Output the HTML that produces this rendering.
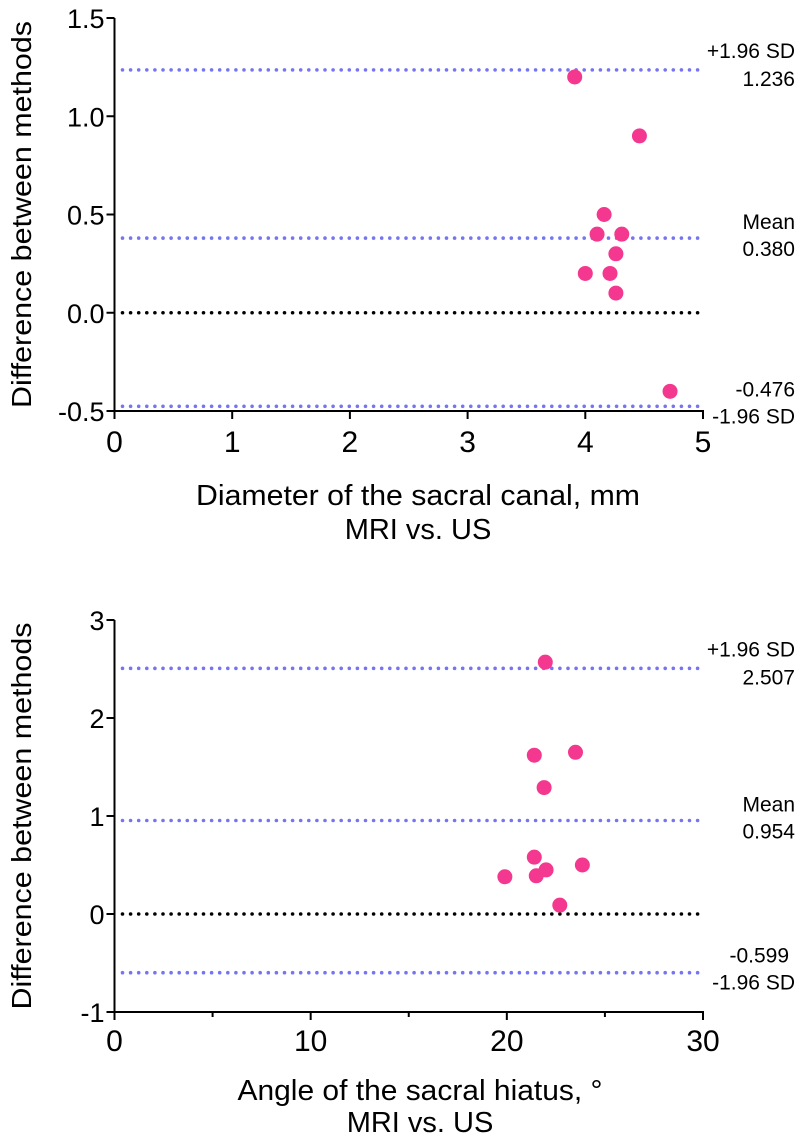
<!DOCTYPE html>
<html><head><meta charset="utf-8"><style>
html,body{margin:0;padding:0;background:#fff;}
svg{display:block;font-family:"Liberation Sans",Arial,sans-serif;}
</style></head><body>
<svg id="chart" width="800" height="1140" viewBox="0 0 800 1140" xmlns="http://www.w3.org/2000/svg"></svg>
<script>
// Panel 1: Diameter of the sacral canal
const diamX = [3.91, 4.46, 4.16, 4.10, 4.31, 4.26, 4.00, 4.21, 4.26, 4.72];
const diamY = [1.20, 0.90, 0.50, 0.40, 0.40, 0.30, 0.20, 0.20, 0.10, -0.40];
const diamStats = [1.236, 0.380, -0.476];
const diamYTicks = [-0.5, 0.0, 0.5, 1.0, 1.5];
const diamYTickLabels = ["-0.5", "0.0", "0.5", "1.0", "1.5"];
const diamXTicks = [0, 1, 2, 3, 4, 5];
const diamXMinor = [];
// Panel 2: Angle of the sacral hiatus
const angX = [21.96, 21.4, 23.5, 21.9, 21.4, 19.9, 21.5, 22.0, 23.85, 22.7];
const angY = [2.57, 1.62, 1.65, 1.29, 0.58, 0.38, 0.39, 0.45, 0.50, 0.09];
const angStats = [2.507, 0.954, -0.599];
const angYTicks = [-1, 0, 1, 2, 3];
const angYTickLabels = ["-1", "0", "1", "2", "3"];
const angXTicks = [0, 10, 20, 30];
const angXMinor = [5, 15, 25];

const NS = "http://www.w3.org/2000/svg";
const svg = document.getElementById('chart');
function mk(tag, attrs, parent, txt){
  const e = document.createElementNS(NS, tag);
  for (const k in attrs) e.setAttribute(k, attrs[k]);
  if (txt !== undefined) e.textContent = txt;
  (parent || svg).appendChild(e);
  return e;
}

function panel(cfg){
  const g = mk('g', {});
  
  
  const L = 114.5, R = 703;
  const sx = v => L + (v - cfg.xmin) / (cfg.xmax - cfg.xmin) * (R - L);
  const sy = v => cfg.yBottom + (v - cfg.ymin) / (cfg.ymax - cfg.ymin) * (cfg.yTop - cfg.yBottom);
  const y0 = cfg.yBottom;
  const statY = cfg.stats.map(sy);
  [0,1,2].forEach(i => {
    const l = mk('line', {x1: L+8, x2: R, y1: statY[i], y2: statY[i], stroke: '#7575f2', 'stroke-width': 3.6, 'stroke-linecap': 'round', 'stroke-dasharray': '0 8.1'}, g);
    
    
  });
  const zl = mk('line', {x1: L+8, x2: R, y1: sy(0), y2: sy(0), stroke: '#000', 'stroke-width': 3.6, 'stroke-linecap': 'round', 'stroke-dasharray': '0 8.1'}, g);
  
  
  const ya = mk('line', {x1: L, x2: L, y1: cfg.yTop, y2: y0 + 1, stroke: '#000', 'stroke-width': 2}, g);
  
  
  const xa = mk('line', {x1: L, x2: R + 1, y1: y0, y2: y0, stroke: '#000', 'stroke-width': 2}, g);
  
  
  cfg.yTicks.forEach((v, i) => {
    const y = sy(v);
    mk('line', {x1: L - 8, x2: L, y1: y, y2: y, stroke: '#000', 'stroke-width': 2}, g);
    const t = mk('text', {x: L - 10, y: y + 10, 'text-anchor': 'end', 'font-size': 27}, g, cfg.yLabels[i]);
    
    
  });
  cfg.xTicks.forEach(v => {
    const x = sx(v);
    mk('line', {x1: x, x2: x, y1: y0, y2: y0 + 8, stroke: '#000', 'stroke-width': 2}, g);
    const t = mk('text', {x: x, y: y0 + cfg.tickOff, 'text-anchor': 'middle', 'font-size': 30}, g, String(v));
    
    
  });
  cfg.xMinor.forEach(v => {
    const x = sx(v);
    mk('line', {x1: x, x2: x, y1: y0, y2: y0 + 5, stroke: '#000', 'stroke-width': 2}, g);
  });
  cfg.xs.forEach((xv, i) => {
    const c = mk('circle', {cx: sx(xv), cy: sy(cfg.ys[i]), r: 7.5, fill: '#f4378f'}, g);
    
    
  });
  const fmt = v => v.toFixed(3);
  const a1 = mk('text', {x: 795, y: statY[0] - 12, 'text-anchor': 'end', 'font-size': 21}, g, '+1.96 SD');
  
  
  const a2 = mk('text', {x: 795, y: statY[0] + 16, 'text-anchor': 'end', 'font-size': 21}, g, fmt(cfg.stats[0]));
  
  
  const m1 = mk('text', {x: 795, y: statY[1] - 9, 'text-anchor': 'end', 'font-size': 21}, g, 'Mean');
  
  
  const m2 = mk('text', {x: 795, y: statY[1] + 18, 'text-anchor': 'end', 'font-size': 21}, g, fmt(cfg.stats[1]));
  
  
  const b1 = mk('text', {x: cfg.lowValX, y: statY[2] - 10, 'text-anchor': 'end', 'font-size': 21}, g, fmt(cfg.stats[2]));
  
  
  const b2 = mk('text', {x: 795, y: statY[2] + 17, 'text-anchor': 'end', 'font-size': 21}, g, '-1.96 SD');
  
  
  const yc = (cfg.yTop + y0) / 2;
  const yt = mk('text', {x: 0, y: 0, transform: `translate(31,${yc}) rotate(-90)`, 'text-anchor': 'middle', 'font-size': 28, textLength: 387, lengthAdjust: 'spacingAndGlyphs'}, g, 'Difference between methods');
  
  
  const xt = mk('text', {x: cfg.titleX, y: y0 + cfg.titleOff, 'text-anchor': 'middle', 'font-size': 29, textLength: cfg.titleW, lengthAdjust: 'spacingAndGlyphs'}, g, cfg.title);
  
  
  const st = mk('text', {x: cfg.titleX, y: y0 + cfg.subOff, 'text-anchor': 'middle', 'font-size': 29}, g, 'MRI vs. US');
  
  
}

panel({name: 'diameter-panel', xs: diamX, ys: diamY, stats: diamStats, yTicks: diamYTicks, yLabels: diamYTickLabels,
  xTicks: diamXTicks, xMinor: diamXMinor, xmin: 0, xmax: 5, ymin: -0.5, ymax: 1.5, yTop: 18, yBottom: 411,
  tickOff: 41, titleOff: 94, subOff: 128, titleX: 418, titleW: 444, lowValX: 795,
  title: 'Diameter of the sacral canal, mm'});
panel({name: 'angle-panel', xs: angX, ys: angY, stats: angStats, yTicks: angYTicks, yLabels: angYTickLabels,
  xTicks: angXTicks, xMinor: angXMinor, xmin: 0, xmax: 30, ymin: -1, ymax: 3, yTop: 620, yBottom: 1012,
  tickOff: 39, titleOff: 88, subOff: 120, titleX: 420, titleW: 365, lowValX: 789,
  title: 'Angle of the sacral hiatus, °'});
</script>
</body></html>
